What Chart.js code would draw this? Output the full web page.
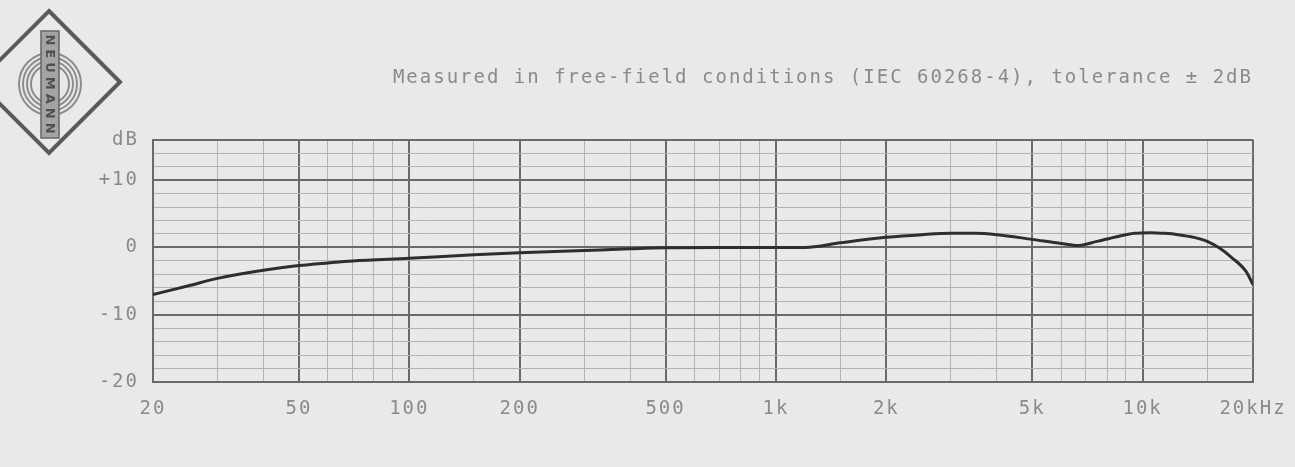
<!DOCTYPE html>
<html>
<head>
<meta charset="utf-8">
<script src="https://cdn.jsdelivr.net/npm/chart.js@4.4.1/dist/chart.umd.min.js"></script>
<style>
  html, body { margin: 0; padding: 0; background: #e9e9e9; }
  #wrap { width: 1295px; height: 467px; position: relative; }
</style>
</head>
<body>
<div id="wrap"><canvas id="freqChart"></canvas></div>
<script>
// frequency response (Hz / dB)
var freqs  = [20, 25, 30, 40, 50, 60, 70, 100, 150, 200, 300, 400, 500, 700, 1000, 1200,
              1500, 2000, 2500, 3000, 3500, 4000, 5000, 6000, 6700, 7500, 8500, 9500,
              10500, 11500, 12500, 13800, 15000, 16200, 17500, 19100, 20000];
var levels = [-7.0, -5.7, -4.6, -3.4, -2.7, -2.3, -2.0, -1.6, -1.1, -0.8, -0.45, -0.2, -0.05, 0, 0, 0,
              0.7, 1.5, 1.9, 2.1, 2.1, 1.9, 1.2, 0.6, 0.3, 0.9, 1.6, 2.1,
              2.2, 2.1, 1.9, 1.5, 0.9, -0.1, -1.5, -3.5, -5.5];

// grid lines on the frequency axis and the ones that get a label
var gridFreqs   = [20, 30, 40, 50, 60, 70, 80, 90, 100, 150, 200, 300, 400, 500, 600, 700, 800, 900,
                   1000, 1500, 2000, 3000, 4000, 5000, 6000, 7000, 8000, 9000, 10000, 15000, 20000];
var majorFreqs  = [20, 50, 100, 200, 500, 1000, 2000, 5000, 10000, 20000];
var majorLabels = ['20', '50', '100', '200', '500', '1k', '2k', '5k', '10k', '20kHz'];

// level axis labels
var dbValues = [16, 10, 0, -10, -20];
var dbLabels = ['dB', '+10', '0', '-10', '-20'];

var titleText = 'Measured in free-field conditions (IEC 60268-4), tolerance \u00b1 2dB';

var textGrey = '#8a8a8a';
var darkGrid = '#6a6a6a';
var lightGrid = '#b2b2b2';
var monoFont = "'DejaVu Sans Mono', 'Liberation Mono', monospace";

var points = freqs.map(function (f, i) { return { x: f, y: levels[i] }; });

// the Neumann badge, plus wider letter spacing for all the lettering
var neumannPlugin = {
  id: 'neumann',
  beforeDraw: function (chart) {
    var ctx = chart.ctx;
    ctx.save();
    // diamond
    ctx.strokeStyle = '#5a5a5a';
    ctx.lineWidth = 4;
    ctx.beginPath();
    ctx.moveTo(49, 11);
    ctx.lineTo(120, 82);
    ctx.lineTo(49, 153);
    ctx.lineTo(-22, 82);
    ctx.closePath();
    ctx.stroke();
    // rings
    ctx.strokeStyle = '#8c8c8c';
    ctx.lineWidth = 2;
    [31, 27, 23, 19].forEach(function (r) {
      ctx.beginPath();
      ctx.arc(50, 84, r, 0, Math.PI * 2);
      ctx.stroke();
    });
    // bar
    ctx.fillStyle = '#a4a4a4';
    ctx.strokeStyle = '#666';
    ctx.lineWidth = 1.5;
    ctx.fillRect(41, 31, 18, 107);
    ctx.strokeRect(41, 31, 18, 107);
    // name
    ctx.translate(50, 84);
    ctx.rotate(Math.PI / 2);
    ctx.fillStyle = '#505050';
    ctx.font = "bold 13px 'DejaVu Sans', sans-serif";
    ctx.letterSpacing = '4px';
    ctx.textAlign = 'center';
    ctx.textBaseline = 'middle';
    ctx.fillText('NEUMANN', 2, 1);
    ctx.restore();
    ctx.letterSpacing = '2px';
  }
};

new Chart(document.getElementById('freqChart'), {
  type: 'line',
  data: {
    datasets: [{
      data: points,
      borderColor: '#2e2e2e',
      borderWidth: 3,
      pointRadius: 0,
      cubicInterpolationMode: 'monotone',
      fill: false
    }]
  },
  options: {
    responsive: true,
    maintainAspectRatio: false,
    animation: false,
    layout: { padding: { top: 67, right: 42, bottom: 0, left: 0 } },
    plugins: {
      legend: { display: false },
      tooltip: { enabled: false },
      title: {
        display: true,
        text: titleText,
        align: 'end',
        color: textGrey,
        font: { family: monoFont, size: 19, weight: 'normal', lineHeight: 1.2 },
        padding: { top: 0, bottom: 50 }
      }
    },
    scales: {
      x: {
        type: 'logarithmic',
        min: 20,
        max: 20000,
        afterBuildTicks: function (scale) {
          scale.ticks = gridFreqs.map(function (v) { return { value: v }; });
        },
        afterFit: function (scale) {
          scale.height = 85;
          scale.paddingLeft = 0;
          scale.paddingRight = 0;
        },
        ticks: {
          autoSkip: false,
          maxRotation: 0,
          padding: 16,
          color: textGrey,
          font: { family: monoFont, size: 19 },
          callback: function (value) {
            var i = majorFreqs.indexOf(value);
            return i >= 0 ? majorLabels[i] : '';
          }
        },
        grid: {
          drawTicks: false,
          color: function (c) { return majorFreqs.indexOf(c.tick.value) >= 0 ? darkGrid : lightGrid; },
          lineWidth: function (c) { return majorFreqs.indexOf(c.tick.value) >= 0 ? 2 : 1; }
        },
        border: { color: darkGrid, width: 2 }
      },
      y: {
        min: -20,
        max: 16,
        afterFit: function (scale) { scale.width = 153; },
        ticks: {
          stepSize: 2,
          autoSkip: false,
          padding: 14,
          color: textGrey,
          font: { family: monoFont, size: 19 },
          callback: function (value) {
            var i = dbValues.indexOf(value);
            return i >= 0 ? dbLabels[i] : '';
          }
        },
        grid: {
          drawTicks: false,
          color: function (c) {
            var v = c.tick.value;
            return (v % 10 === 0 || v === 16) ? darkGrid : lightGrid;
          },
          lineWidth: function (c) {
            var v = c.tick.value;
            return (v % 10 === 0 || v === 16) ? 2 : 1;
          }
        },
        border: { color: darkGrid, width: 2 }
      }
    }
  },
  plugins: [neumannPlugin]
});
</script>
</body>
</html>
